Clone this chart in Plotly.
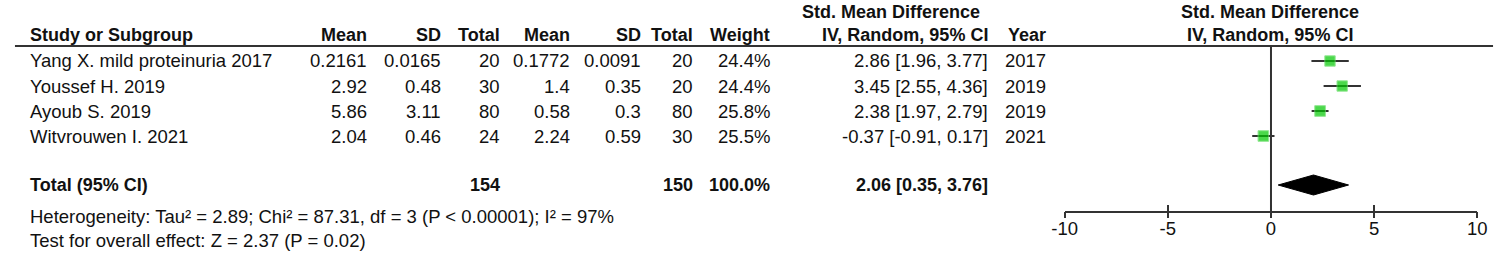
import plotly.graph_objects as go

# ---------------- data ----------------
studies = ["Yang X. mild proteinuria 2017", "Youssef H. 2019", "Ayoub S. 2019", "Witvrouwen I. 2021"]
exp_mean = ["0.2161", "2.92", "5.86", "2.04"]
exp_sd = ["0.0165", "0.48", "3.11", "0.46"]
exp_n = [20, 30, 80, 24]
ctl_mean = ["0.1772", "1.4", "0.58", "2.24"]
ctl_sd = ["0.0091", "0.35", "0.3", "0.59"]
ctl_n = [20, 20, 80, 30]
weights = [24.4, 24.4, 25.8, 25.5]
smd = [2.86, 3.45, 2.38, -0.37]
ci_lo = [1.96, 2.55, 1.97, -0.91]
ci_hi = [3.77, 4.36, 2.79, 0.17]
years = [2017, 2019, 2019, 2021]

total_label = "Total (95% CI)"
total_exp = 154
total_ctl = 150
total_weight = 100.0
total_smd = 2.06
total_lo = 0.35
total_hi = 3.76
heterogeneity = "Heterogeneity: Tau² = 2.89; Chi² = 87.31, df = 3 (P < 0.00001); I² = 97%"
overall = "Test for overall effect: Z = 2.37 (P = 0.02)"

x_ticks = [-10, -5, 0, 5, 10]
x_ticktext = ["-10", "-5", "0", "5", "10"]

# ---------------- layout helpers ----------------
W, H = 1506, 253
FONT = "Liberation Sans, Arial, sans-serif"
FS = 18.5     # regular text
FSB = 18      # bold text
INK = "#111111"
LINE = "#333333"

ROW0, STEP = 61, 25
TOTAL_Y = 185
HET_Y, TEST_Y = 216, 240
HDR1_Y, HDR2_Y = 12, 35
RULE_Y = 46
AXIS_Y = 211
X_LEFT, X_RIGHT = 1068, 1487

row_y = [ROW0 + STEP * i for i in range(len(studies))]


def px(x):
    return x / W


def py(y):
    return 1 - y / H


annotations = []


def txt(s, x, y, anchor="right", bold=False):
    annotations.append(dict(
        text=f"<b>{s}</b>" if bold else s,
        x=px(x), y=py(y), xref="paper", yref="paper",
        xanchor=anchor, yanchor="middle", showarrow=False,
        font=dict(family=FONT, size=FSB if bold else FS, color=INK),
    ))


# column right edges
C_STUDY = 15
C_EM, C_ESD, C_EN = 362, 437, 497
C_CM, C_CSD, C_CN = 568, 640, 693
C_W = 771
C_CI = 992
C_YR = 1051
C_FOREST = 1277

# headers
txt("Std. Mean Difference", 984, HDR1_Y, bold=True)
txt("Std. Mean Difference", C_FOREST, HDR1_Y, anchor="center", bold=True)
txt("Study or Subgroup", C_STUDY, HDR2_Y, anchor="left", bold=True)
for s, x in [("Mean", C_EM), ("SD", C_ESD), ("Total", C_EN), ("Mean", C_CM),
             ("SD", C_CSD), ("Total", C_CN), ("Weight", C_W),
             ("IV, Random, 95% CI", C_CI), ("Year", C_YR)]:
    txt(s, x, HDR2_Y, bold=True)
txt("IV, Random, 95% CI", C_FOREST, HDR2_Y, anchor="center", bold=True)

# study rows
for i, name in enumerate(studies):
    y = row_y[i]
    txt(name, C_STUDY, y, anchor="left")
    txt(exp_mean[i], C_EM, y)
    txt(exp_sd[i], C_ESD, y)
    txt(str(exp_n[i]), C_EN, y)
    txt(ctl_mean[i], C_CM, y)
    txt(ctl_sd[i], C_CSD, y)
    txt(str(ctl_n[i]), C_CN, y)
    txt(f"{weights[i]:.1f}%", C_W, y)
    txt(f"{smd[i]:.2f} [{ci_lo[i]:.2f}, {ci_hi[i]:.2f}]", C_CI, y)
    txt(str(years[i]), C_YR, y)

# total row
txt(total_label, C_STUDY, TOTAL_Y, anchor="left", bold=True)
txt(str(total_exp), C_EN, TOTAL_Y, bold=True)
txt(str(total_ctl), C_CN, TOTAL_Y, bold=True)
txt(f"{total_weight:.1f}%", C_W, TOTAL_Y, bold=True)
txt(f"{total_smd:.2f} [{total_lo:.2f}, {total_hi:.2f}]", C_CI, TOTAL_Y, bold=True)
txt(heterogeneity, C_STUDY, HET_Y, anchor="left")
txt(overall, C_STUDY, TEST_Y, anchor="left")

# ---------------- figure ----------------
fig = go.Figure()

# CI whiskers
wx, wy = [], []
for i in range(len(studies)):
    wx += [ci_lo[i], ci_hi[i], None]
    wy += [row_y[i], row_y[i], None]
fig.add_trace(go.Scatter(x=wx, y=wy, mode="lines", line=dict(color=LINE, width=2),
                         hoverinfo="skip", showlegend=False))

# squares
fig.add_trace(go.Scatter(
    x=smd, y=row_y, mode="markers",
    marker=dict(symbol="square", color="#00C800",
                size=[10.5 * (w / 25) ** 0.5 for w in weights],
                line=dict(color="#66DD66", width=1)),
    hoverinfo="skip", showlegend=False))

# diamond
half = 10
fig.add_trace(go.Scatter(
    x=[total_lo, total_smd, total_hi, total_smd, total_lo],
    y=[TOTAL_Y, TOTAL_Y - half, TOTAL_Y, TOTAL_Y + half, TOTAL_Y],
    mode="lines", fill="toself", fillcolor="#000000",
    line=dict(color="#000000", width=1), hoverinfo="skip", showlegend=False))

# invisible trace to activate the second (outside-tick) axis
fig.add_trace(go.Scatter(x=[0], y=[AXIS_Y], xaxis="x2", yaxis="y", mode="markers",
                         marker=dict(opacity=0), hoverinfo="skip", showlegend=False))

shapes = [
    dict(type="line", xref="paper", yref="paper", x0=px(2), x1=px(1503),
         y0=py(RULE_Y), y1=py(RULE_Y), line=dict(color=LINE, width=2)),
    dict(type="line", xref="x", yref="y", x0=0, x1=0, y0=RULE_Y, y1=AXIS_Y,
         line=dict(color=LINE, width=2)),
]

axis_domain = [px(X_LEFT), px(X_RIGHT)]
fig.update_layout(
    width=W, height=H, margin=dict(l=0, r=0, t=0, b=0),
    paper_bgcolor="white", plot_bgcolor="white",
    showlegend=False,
    annotations=annotations, shapes=shapes,
    xaxis=dict(domain=axis_domain, range=[-10, 10], anchor="y",
               showline=True, linecolor=LINE, linewidth=2,
               ticks="inside", ticklen=6, tickwidth=2, tickcolor=LINE,
               tickvals=x_ticks, ticktext=x_ticktext,
               tickfont=dict(family=FONT, size=FS, color=INK),
               showgrid=False, zeroline=False, fixedrange=True),
    xaxis2=dict(domain=axis_domain, range=[-10, 10], overlaying="x", matches="x",
                anchor="y", side="bottom", ticks="outside", ticklen=6, tickwidth=2,
                tickcolor=LINE, tickvals=x_ticks, showticklabels=False,
                showline=False, showgrid=False, zeroline=False),
    yaxis=dict(domain=[py(AXIS_Y), 1], range=[AXIS_Y, 0], visible=False,
               fixedrange=True),
)

fig.write_html("out.html", config={"displayModeBar": False},
               post_script="document.body.style.margin='0';document.body.style.overflow='hidden';")
